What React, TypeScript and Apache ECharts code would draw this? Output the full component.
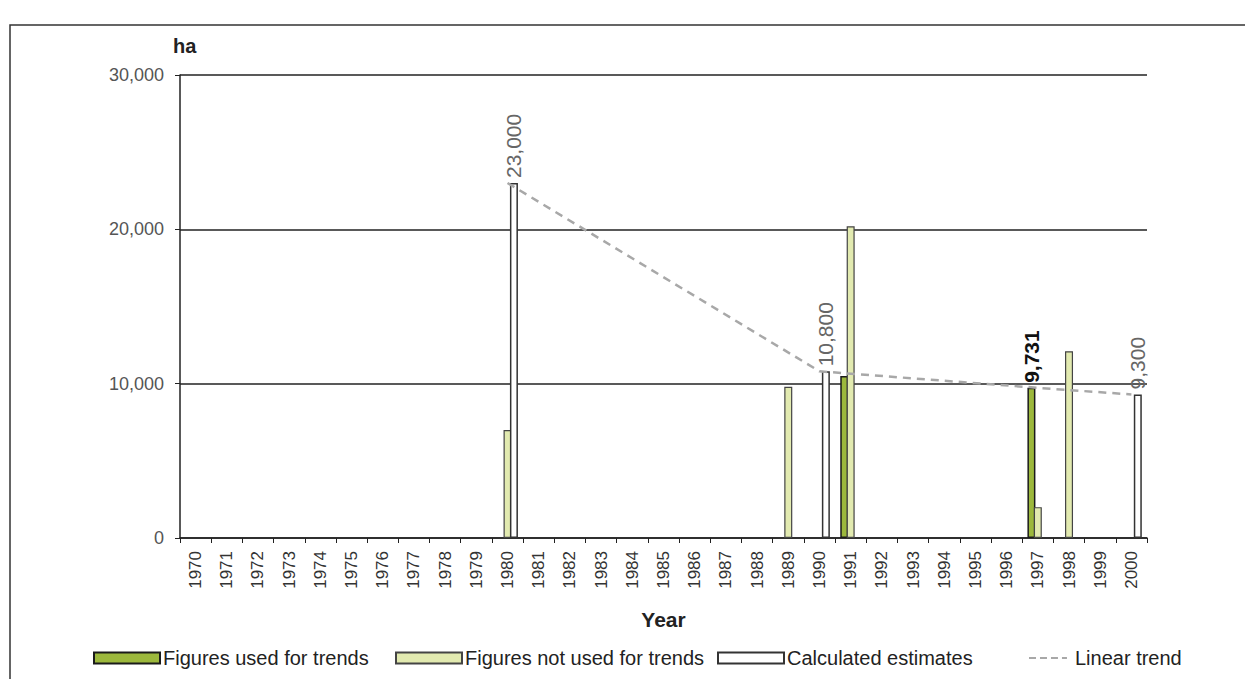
import React, { useEffect, useRef } from "react";
import * as echarts from "echarts";

const years: string[] = [];
for (let y = 1970; y <= 2000; y++) years.push(String(y));

// values keyed by year
const usedForTrends: Record<string, number> = { "1991": 10500, "1997": 9731 };
const notUsedForTrends: Record<string, number> = { "1980": 7000, "1989": 9800, "1991": 20200, "1997": 2000, "1998": 12100 };
const calculatedEstimates: Record<string, number> = { "1980": 23000, "1990": 10800, "2000": 9300 };
const linearTrend: Record<string, number> = { "1980": 23000, "1990": 10800, "1997": 9731, "2000": 9300 };
const labelledUsed = ["1997"];
const labelledCalc = ["1980", "1990", "2000"];

const yTicks = [0, 10000, 20000, 30000];

const seriesNames = ["Figures used for trends", "Figures not used for trends", "Calculated estimates", "Linear trend"];

const FONT = "Arial, 'Liberation Sans', sans-serif";

const DASH_ICON =
  "path://M0,0L0.01,0L0,0.01Z M0,11L0.01,11L0,11.01Z M42,0L41.99,0L42,0.01Z M4,4.5h7v2h-7z M15,4.5h7v2h-7z M26,4.5h7v2h-7z M37,4.5h5v2h-5z";

export default function App() {
  const ref = useRef<HTMLDivElement>(null);
  useEffect(() => {
    if (!ref.current) return;
    const chart = echarts.init(ref.current, null, { renderer: "svg" });
    const pick = (m: Record<string, number>) => years.map((y) => (m[y] !== undefined ? m[y] : null));
    const fmt = (v: number) => v.toLocaleString("en-US");

    const rotLabel = (bold: boolean, color: string) => ({
      show: true,
      position: "top",
      rotate: 90,
      align: "left",
      verticalAlign: "middle",
      distance: 5,
      fontSize: 21,
      fontFamily: FONT,
      fontWeight: bold ? "bold" : "normal",
      color,
      formatter: (p: any) => fmt(p.value),
    });

    const legendLefts = [88, 390, 712, 1020];
    const legends = seriesNames.map((name, i) => ({
      left: legendLefts[i],
      top: 643,
      itemWidth: i === 3 ? 42 : 66,
      itemHeight: 11,
      textStyle: { fontSize: 20, color: "#222", fontFamily: FONT, padding: i === 3 ? [0, 0, 0, 3] : [0, 0, 0, -2] },
      data: [i === 3 ? { name, icon: DASH_ICON, itemStyle: { color: "#a8a8a8" } } : { name, icon: "rect" }],
    }));

    chart.setOption({
      animation: false,
      textStyle: { fontFamily: FONT },
      graphic: [
        {
          type: "rect",
          shape: { x: 10, y: 25, width: 1260, height: 700 },
          style: { fill: "none", stroke: "#333", lineWidth: 1.5 },
          silent: true,
        },
        {
          type: "text",
          left: 173,
          top: 36,
          style: { text: "ha", fontSize: 20, fontWeight: "bold", fontFamily: FONT, fill: "#222" },
        },
      ],
      grid: { left: 180, right: 98, top: 75, bottom: 141, containLabel: false },
      legend: legends,
      xAxis: {
        type: "category",
        data: years,
        name: "Year",
        nameLocation: "middle",
        nameGap: 71,
        nameTextStyle: { fontSize: 21, fontWeight: "bold", color: "#222", fontFamily: FONT },
        axisLine: { lineStyle: { color: "#222", width: 1.5 } },
        axisTick: { show: true, length: 5, lineStyle: { color: "#222" } },
        axisLabel: { rotate: 90, fontSize: 17, color: "#333", margin: 13, interval: 0, fontFamily: FONT },
      },
      yAxis: {
        type: "value",
        min: yTicks[0],
        max: yTicks[yTicks.length - 1],
        interval: 10000,
        axisLine: { show: true, lineStyle: { color: "#222", width: 1.5 } },
        axisTick: { show: true, length: 5, lineStyle: { color: "#222" } },
        axisLabel: { fontSize: 18, color: "#555", margin: 16, fontFamily: FONT, formatter: (v: number) => fmt(v) },
        splitLine: { show: true, lineStyle: { color: "#222", width: 1.5 } },
      },
      series: [
        {
          name: seriesNames[0],
          type: "bar",
          barWidth: 8,
          barGap: "-20%",
          data: years.map((y) =>
            usedForTrends[y] !== undefined
              ? { value: usedForTrends[y], label: labelledUsed.includes(y) ? rotLabel(true, "#111") : { show: false } }
              : null
          ),
          itemStyle: { color: "#9cb83c", borderColor: "#1a1a1a", borderWidth: 1.5 },
        },
        {
          name: seriesNames[1],
          type: "bar",
          barWidth: 8,
          barGap: "-20%",
          data: pick(notUsedForTrends),
          itemStyle: { color: "#e2eab0", borderColor: "#444", borderWidth: 1.2 },
        },
        {
          name: seriesNames[2],
          type: "bar",
          barWidth: 8,
          barGap: "-20%",
          data: years.map((y) =>
            calculatedEstimates[y] !== undefined
              ? { value: calculatedEstimates[y], label: labelledCalc.includes(y) ? rotLabel(false, "#666") : { show: false } }
              : null
          ),
          itemStyle: { color: "#ffffff", borderColor: "#333", borderWidth: 1.5 },
        },
        {
          name: seriesNames[3],
          type: "line",
          data: pick(linearTrend),
          connectNulls: true,
          symbol: "none",
          z: 5,
          lineStyle: { color: "#a8a8a8", width: 2.5, type: [8, 6] },
          itemStyle: { color: "#a8a8a8" },
        },
      ],
    });
    return () => chart.dispose();
  }, []);
  return (
    <div
      ref={ref}
      style={{ position: "fixed", left: 0, top: 0, width: 1245, height: 679, background: "#fff" }}
    />
  );
}
